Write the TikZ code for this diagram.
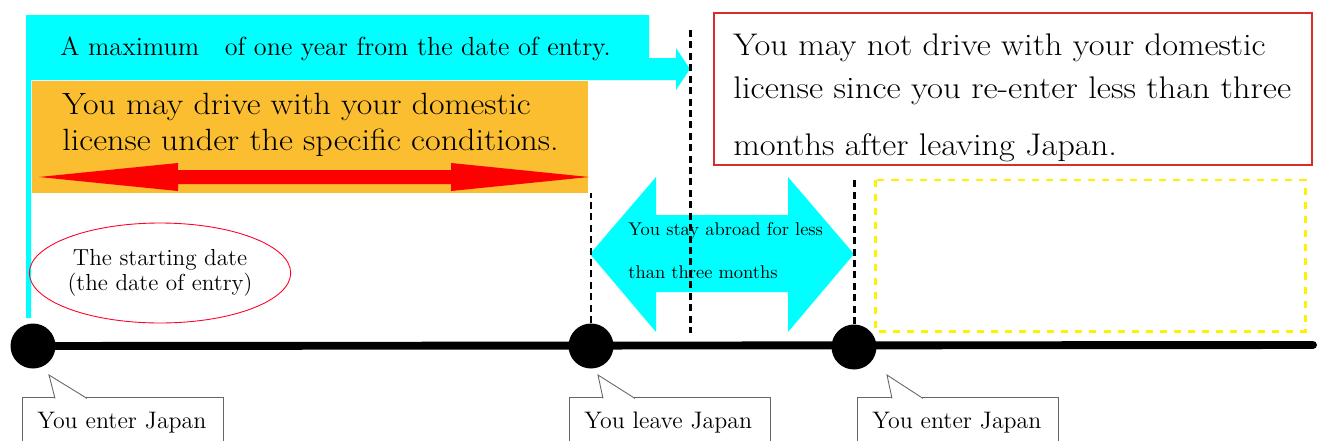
\documentclass[tikz,border=0pt]{standalone}
\usepackage{graphicx}
\usetikzlibrary{shapes.geometric}
\definecolor{aqua}{RGB}{0,255,255}
\definecolor{licorange}{RGB}{250,190,48}
\definecolor{boxred}{RGB}{215,45,45}
\newcommand{\wide}[2]{\scalebox{#1}[1]{#2}}
\tikzset{
  guide/.style={black, line width=1.7pt, dash pattern=on 4pt off 2.5pt},
  dot/.style={circle, fill=black, minimum size=0.9cm, inner sep=0pt},
  tag/.style={rectangle, draw=black!60, fill=white, line width=0.5pt,
    text width=3.42cm, inner xsep=0.3cm, inner ysep=8.4pt, align=left,
    anchor=north west, font=\fontsize{13.6}{15}\selectfont},
  tagline/.style={draw=black!60, fill=white, line width=0.5pt},
  bigline/.style={anchor=base west, inner sep=0pt},
}
\begin{document}
\begin{tikzpicture}[x=0.02cm, y=-0.02cm]
\useasboundingbox (0,0) rectangle (1319,440);
\clip (0,0) rectangle (1319,440);

% one year band
\fill[aqua] (26,15) -- (649,15) -- (649,58) -- (676,58) -- (676,48) -- (690,69)
  -- (676,90) -- (676,80) -- (31,80) -- (31,318) -- (26,318) -- cycle;
\node[bigline, font=\fontsize{14.9}{17}\selectfont] (maxtext) at (60,55)
  {A maximum\ \ \ of one year from the date of entry.};

% domestic license period
\fill[licorange] (32,81) rectangle (588,193);
\node[bigline, font=\fontsize{17.5}{20}\selectfont] (drive1) at (62,114) {\wide{1.1}{You may drive with your domestic}};
\node[bigline, font=\fontsize{17.5}{20}\selectfont] (drive2) at (62,150) {\wide{1.11}{license under the specific conditions.}};
\fill[red] (39,177) -- (178,163) -- (178,170) -- (451,170) -- (451,163) -- (589,177)
  -- (451,191) -- (451,184) -- (178,184) -- (178,191) -- cycle;

% no driving
\draw[boxred, line width=0.6pt] (714,13) rectangle (1312,165);
\node[bigline, font=\fontsize{17.8}{20}\selectfont] (nodrive1) at (733,55) {\wide{1.1}{You may not drive with your domestic}};
\node[bigline, font=\fontsize{17.8}{20}\selectfont] (nodrive2) at (733,98) {\wide{1.11}{license since you re-enter less than three}};
\node[bigline, font=\fontsize{17.8}{20}\selectfont] (nodrive3) at (733,155) {\wide{1.1}{months after leaving Japan.}};
\draw[yellow, line width=1.7pt, dash pattern=on 4pt off 4pt] (875,180) rectangle (1305,331);

% stay abroad
\fill[aqua] (590,254) -- (656,177) -- (656,215) -- (788,215) -- (788,177) -- (854,254)
  -- (788,332) -- (788,292) -- (656,292) -- (656,332) -- cycle;
\node[bigline, font=\fontsize{10.5}{12}\selectfont] (stay1) at (628,235) {You stay abroad for less};
\node[bigline, font=\fontsize{10.5}{12}\selectfont] (stay2) at (628,278) {than three months};

\node[ellipse, draw=red!85!magenta, line width=0.5pt, inner sep=0pt, minimum width=5.12cm,
  minimum height=2cm, align=center, font=\fontsize{13.2}{14.5}\selectfont] (start) at (160,273)
  {The starting date\\(the date of entry)};

% time line
\node[dot] (entry) at (33,346) {};
\node[dot] (exit) at (591,346) {};
\node[dot] (reentry) at (854,347) {};
\coordinate (lineend) at (1313,345);
\draw[line width=4.5pt, line cap=round] (entry.center) -- (lineend);

\draw[guide] (exit.north) -- (exit.north |- 0,193);
\draw[guide] (reentry.north) -- (reentry.north |- 0,180);
\draw[guide] (690,30) -- (690,333);

% callouts
\node[tag] (entrytag) at (22,397) {You enter Japan};
\node[tag] (exittag) at (569,397) {You leave Japan};
\node[tag] (reentrytag) at (857,397) {You enter Japan};
\coordinate (entrytip) at (49,375);
\coordinate (exittip) at (598,375);
\coordinate (reentrytip) at (887,375);
\draw[tagline] ([xshift=0.66cm, yshift=-0.8pt]entrytag.north west) -- (entrytip)
  -- ([xshift=1.3cm, yshift=-0.8pt]entrytag.north west);
\draw[tagline] ([xshift=0.68cm, yshift=-0.8pt]exittag.north west) -- (exittip)
  -- ([xshift=1.32cm, yshift=-0.8pt]exittag.north west);
\draw[tagline] ([xshift=0.7cm, yshift=-0.8pt]reentrytag.north west) -- (reentrytip)
  -- ([xshift=1.32cm, yshift=-0.8pt]reentrytag.north west);
\end{tikzpicture}
\end{document}
